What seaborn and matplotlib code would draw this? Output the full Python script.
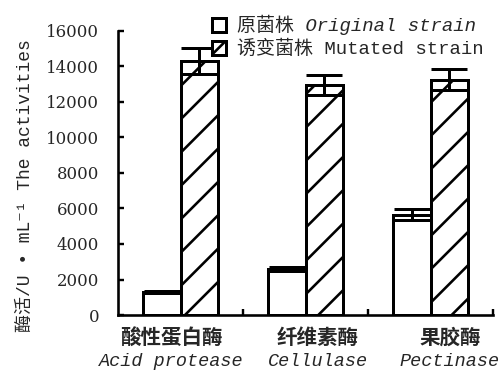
import numpy as np
import pandas as pd
import matplotlib
matplotlib.use('Agg')
import matplotlib.pyplot as plt
import seaborn as sns

# ---- data ----
enzymes = ['Acid protease', 'Cellulase', 'Pectinase']
enzymes_cn = ['酸性蛋白酶', '纤维素酶', '果胶酶']
strains = ['原菌株 Original strain', '诱变菌株 Mutated strain']
original = [1300, 2600, 5650]
original_err = [80, 100, 310]
mutated = [14300, 12950, 13250]
mutated_err = [750, 550, 600]
yticks = [0, 2000, 4000, 6000, 8000, 10000, 12000, 14000, 16000]

DPI = 200
PX = 72.0 / DPI  # points per pixel

sns.set_style('ticks')
plt.rcParams['font.family'] = ['DejaVu Serif', 'Noto Sans CJK SC']
plt.rcParams['hatch.linewidth'] = 2.6 * PX
plt.rcParams['hatch.color'] = 'black'

df = pd.DataFrame({
    'enzyme': enzymes * 2,
    'strain': [strains[0]] * 3 + [strains[1]] * 3,
    'activity': original + mutated,
})

fig = plt.figure(figsize=(503 / DPI, 370 / DPI), dpi=DPI)
ax = fig.add_axes([118 / 503, 55 / 370, 375 / 503, 284 / 370])

sns.barplot(data=df, x='enzyme', y='activity', hue='strain', order=enzymes,
            hue_order=strains, palette=['white', 'white'], width=0.6,
            errorbar=None, edgecolor='black', linewidth=3 * PX, legend=False,
            ax=ax, saturation=1)

bar_containers = list(ax.containers)
errs = [original_err, mutated_err]
for k, cont in enumerate(bar_containers):
    xs, hs = [], []
    for p in cont.patches:
        if k == 1:
            p.set_hatch('//')
        xs.append(p.get_x() + p.get_width() / 2)
        hs.append(p.get_height())
    ax.errorbar(xs, hs, yerr=errs[k], fmt='none', ecolor='black',
                elinewidth=3 * PX, capsize=18 * PX, capthick=3 * PX, zorder=5)

ax.set_xlim(-0.5, 2.5)
ax.set_ylim(0, 16000)
ax.set_yticks(yticks)
ax.set_yticklabels([str(t) for t in yticks])
ax.set_xticks([0.5, 1.5, 2.5])
ax.set_xticklabels([])
ax.set_xlabel('')
ax.set_ylabel('')
sns.despine(ax=ax)
for s in ['left', 'bottom']:
    ax.spines[s].set_linewidth(2.6 * PX)
    ax.spines[s].set_color('black')
ax.tick_params(axis='both', direction='in', length=6 * PX, width=2.4 * PX,
               color='black')
ax.tick_params(axis='y', pad=19 * PX, labelsize=16.5 * PX)
for lbl in ax.get_yticklabels():
    lbl.set_family(['DejaVu Serif'])

# category labels (two lines)
offsets = [-0.07, 0.1, 0.155]
for i, (cn, en) in enumerate(zip(enzymes_cn, enzymes)):
    ax.annotate(cn, xy=(i + offsets[i], 0), xycoords=('data', 'axes fraction'),
                xytext=(0, -22 * PX), textcoords='offset points', ha='center',
                va='center', fontsize=20.5 * PX, family=['Noto Sans CJK SC'],
                fontweight='bold')
    ax.annotate(en, xy=(i + offsets[i], 0), xycoords=('data', 'axes fraction'),
                xytext=(0, -47 * PX), textcoords='offset points', ha='center',
                va='center', fontsize=18.5 * PX,
                family=['Liberation Mono', 'DejaVu Sans Mono'], style='italic')

# y label
fig.text(25 / 503, 1 - 186 / 370, '酶活/U • mL⁻¹ The activities', rotation=90,
         ha='center', va='center', fontsize=18 * PX,
         family=['Liberation Mono', 'Noto Sans CJK SC', 'DejaVu Sans'])

# legend
leg = ax.legend(bar_containers, strains, loc='upper left',
                bbox_to_anchor=(212 / 503, 1 - 15 / 370),
                bbox_transform=fig.transFigure, frameon=False, borderpad=0,
                borderaxespad=0, handlelength=0.75, handleheight=0.75,
                handletextpad=0.55, labelspacing=0.25, fontsize=19 * PX)
texts = leg.get_texts()
texts[0].set_family(['Liberation Mono', 'Noto Sans CJK SC'])
texts[0].set_style('italic')
texts[1].set_family(['Liberation Mono', 'Noto Sans CJK SC'])

fig.savefig('out.png', dpi=DPI, facecolor='white')
